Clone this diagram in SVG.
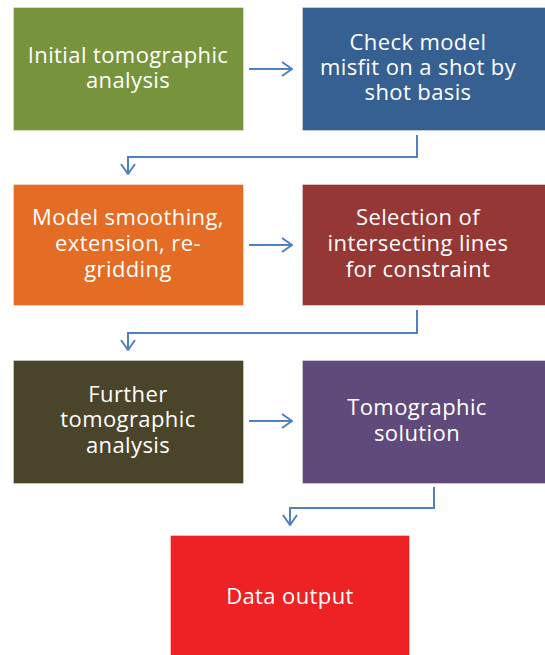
<svg xmlns="http://www.w3.org/2000/svg" width="545" height="655" viewBox="0 0 545 655">
  <style>
    .box { stroke: #ffffff; stroke-opacity: 0.35; stroke-width: 1; }
    .lbl { font-family: "Open Sans", "Noto Sans", sans-serif; font-size: 22px; letter-spacing: 0.4px; fill: #ffffff; text-anchor: middle; }
    .conn { fill: none; stroke: #4F81BD; stroke-width: 2; }
  </style>
  <defs>
    <marker id="chev" markerWidth="12" markerHeight="16" refX="11" refY="8" orient="auto" markerUnits="userSpaceOnUse">
      <path d="M1,1 L11,8 L1,15" fill="none" stroke="#4F81BD" stroke-width="2"/>
    </marker>
  </defs>
  <rect width="545" height="655" fill="#ffffff"/>

  <g id="connectors">
    <path class="conn" d="M249,69 H292" marker-end="url(#chev)"/>
    <path class="conn" d="M417,135 V157 H128 V174" marker-end="url(#chev)"/>
    <path class="conn" d="M249,245 H292" marker-end="url(#chev)"/>
    <path class="conn" d="M417,310 V333 H128 V350" marker-end="url(#chev)"/>
    <path class="conn" d="M249,421 H292" marker-end="url(#chev)"/>
    <path class="conn" d="M434,487 V508 H290 V525" marker-end="url(#chev)"/>
  </g>

  <g id="initial-analysis">
    <rect class="box" x="13.5" y="7.5" width="230" height="123" fill="#77933C"/>
    <text class="lbl" x="128" y="63">Initial tomographic</text>
    <text class="lbl" x="128" y="88">analysis</text>
  </g>
  <g id="check-misfit">
    <rect class="box" x="302.5" y="7.5" width="244" height="123" fill="#366092"/>
    <text class="lbl" x="418" y="50">Check model</text>
    <text class="lbl" x="418" y="75">misfit on a shot by</text>
    <text class="lbl" x="418" y="100">shot basis</text>
  </g>
  <g id="model-smoothing">
    <rect class="box" x="13.5" y="184.5" width="230" height="121" fill="#E46C24"/>
    <text class="lbl" x="128" y="225">Model smoothing,</text>
    <text class="lbl" x="128" y="251">extension, re-</text>
    <text class="lbl" x="128" y="277">gridding</text>
  </g>
  <g id="line-selection">
    <rect class="box" x="302.5" y="184.5" width="244" height="121" fill="#953735"/>
    <text class="lbl" x="418" y="225">Selection of</text>
    <text class="lbl" x="418" y="251">intersecting lines</text>
    <text class="lbl" x="418" y="277">for constraint</text>
  </g>
  <g id="further-analysis">
    <rect class="box" x="13.5" y="360.5" width="230" height="123" fill="#4A452A"/>
    <text class="lbl" x="128" y="402">Further</text>
    <text class="lbl" x="128" y="427">tomographic</text>
    <text class="lbl" x="128" y="453">analysis</text>
  </g>
  <g id="tomographic-solution">
    <rect class="box" x="302.5" y="360.5" width="244" height="123" fill="#604A7B"/>
    <text class="lbl" x="417" y="415">Tomographic</text>
    <text class="lbl" x="417" y="441">solution</text>
  </g>
  <g id="data-output">
    <rect class="box" x="170.5" y="535.5" width="239" height="121" fill="#EE2224"/>
    <text class="lbl" x="290" y="604">Data output</text>
  </g>
</svg>
